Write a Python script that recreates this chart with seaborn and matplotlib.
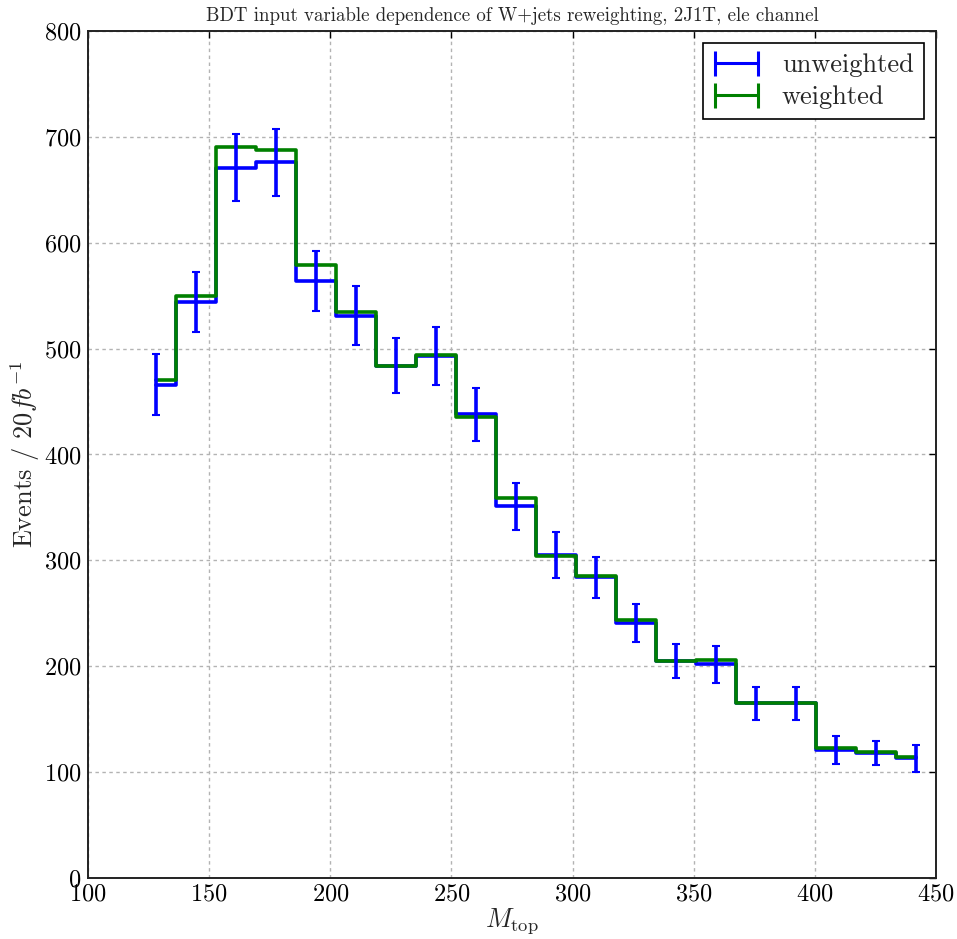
import numpy as np
import pandas as pd
import matplotlib
matplotlib.use("Agg")
import matplotlib.pyplot as plt
import seaborn as sns
from matplotlib.container import ErrorbarContainer
from matplotlib.legend_handler import HandlerErrorbar

# M_top binning: 20 bins of 16.5 GeV between 120 and 450
bin_edges = np.linspace(120.0, 450.0, 21)
bin_centers = 0.5 * (bin_edges[:-1] + bin_edges[1:])

unweighted = [466, 544, 671, 676, 564, 531, 484, 493, 438, 351,
              305, 284, 241, 205, 202, 165, 165, 121, 118, 113]
unweighted_err = [29, 28.5, 31.5, 31.5, 28.5, 28, 26, 27, 25, 22,
                  22, 19.5, 18, 16, 17.5, 15.5, 15.5, 13, 11.5, 12.5]
weighted = [470, 550, 690, 688, 579, 535, 484, 494, 435, 359,
            304, 285, 244, 205, 206, 165, 165, 123, 119, 114]

df = pd.DataFrame({
    "mtop": np.concatenate([bin_centers, bin_centers]),
    "events": unweighted + weighted,
    "sample": ["unweighted"] * 20 + ["weighted"] * 20,
})

sns.set_theme(style="white")
plt.rcParams.update({
    "font.family": ["cmr10", "DejaVu Serif"],
    "mathtext.fontset": "cm",
    "axes.formatter.use_mathtext": True,
    "axes.unicode_minus": False,
})

W, H = 957, 939
fig = plt.figure(figsize=(W / 100, H / 100), dpi=100)
ax = fig.add_axes([88 / W, 1 - 878 / H, (936 - 88) / W, (878 - 31) / H])

palette = {"unweighted": "#0000ff", "weighted": "#008000"}
sns.lineplot(data=df[df["sample"] == "unweighted"], x="mtop", y="events",
             color=palette["unweighted"], drawstyle="steps-mid", lw=2.6,
             ax=ax, zorder=2, legend=False)
sns.lineplot(data=df[df["sample"] == "weighted"], x="mtop", y="events",
             color=palette["weighted"], drawstyle="steps-mid", lw=2.6,
             ax=ax, zorder=3, legend=False)
ax.errorbar(bin_centers, unweighted, yerr=unweighted_err, fmt="none",
            ecolor=palette["unweighted"], elinewidth=2.6, capsize=3,
            capthick=1.5, zorder=4)

# legend entries drawn as horizontal error bars with end caps
handles = []
for name in ["unweighted", "weighted"]:
    h = ax.errorbar([np.nan], [np.nan], xerr=[1.0], fmt="none",
                    ecolor=palette[name], elinewidth=2.2, capsize=9,
                    capthick=2.2, label=name)
    handles.append(h)
leg = ax.legend(handles=handles, loc="upper right", fontsize=19,
                frameon=True, fancybox=False, edgecolor="black",
                framealpha=1.0, borderaxespad=0.45, borderpad=0.4,
                handlelength=1.8, handletextpad=0.8, labelspacing=0.3,
                handler_map={ErrorbarContainer: HandlerErrorbar(xerr_size=0.82)})
leg.get_frame().set_linewidth(1.2)

ax.set_xlim(100, 450)
ax.set_ylim(0, 800)
ax.set_xticks(np.arange(100, 451, 50))
ax.set_yticks(np.arange(0, 801, 100))
ax.grid(True, color="0.7", linestyle=(0, (2.5, 2.5)), linewidth=1.0)
ax.set_axisbelow(True)

ax.tick_params(axis="both", which="major", direction="in", length=5,
               width=1, top=True, right=True, labelsize=17.5, colors="black")
ax.tick_params(axis="x", pad=4)
ax.tick_params(axis="y", pad=5)
for s in ax.spines.values():
    s.set_color("#222222")
    s.set_linewidth(1.4)

ax.set_xlabel(r"$M_{\mathrm{top}}$", fontsize=19, labelpad=0)
ax.set_ylabel(r"Events / $20 fb^{-1}$", fontsize=19, labelpad=1)
ax.set_title("BDT input variable dependence of W+jets reweighting, 2J1T, ele channel",
             fontsize=13.6, pad=7)

fig.savefig("out.png", dpi=100)
